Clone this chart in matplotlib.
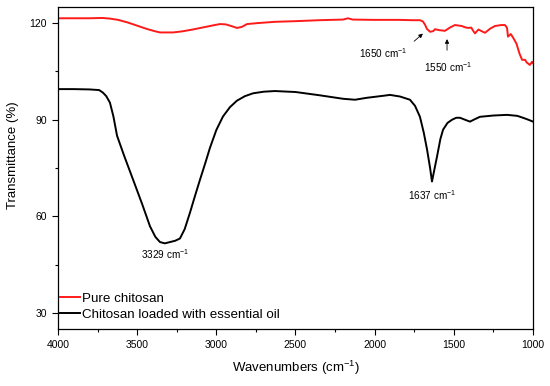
import matplotlib
matplotlib.use("Agg")
import matplotlib.pyplot as plt
from matplotlib.ticker import MultipleLocator

plt.rcParams['font.family'] = ['Liberation Sans', 'DejaVu Sans']
plt.rcParams['mathtext.fontset'] = 'custom'
plt.rcParams['mathtext.rm'] = 'Liberation Sans'
plt.rcParams['mathtext.it'] = 'Liberation Sans:italic'
plt.rcParams['mathtext.bf'] = 'Liberation Sans:bold'

# Pure chitosan (red)
wn_pure = [4000, 3900, 3800, 3720, 3672, 3620, 3560, 3500, 3440, 3390, 3356, 3310, 3274, 3220,
           3150, 3080, 3020, 2977, 2940, 2900, 2870, 2840, 2806, 2740, 2630, 2500, 2350,
           2200, 2168, 2140, 2000, 1850, 1760, 1714, 1695, 1682, 1670, 1650, 1630, 1619, 1590, 1556,
           1525, 1493, 1450, 1430, 1410, 1390, 1375, 1366, 1345, 1325, 1303, 1270, 1240, 1200, 1177,
           1164, 1158, 1140, 1126, 1105, 1085, 1069, 1050, 1040, 1020, 1006, 1000]
t_pure = [121.5, 121.5, 121.5, 121.6, 121.4, 121.0, 120.2, 119.2, 118.2, 117.5, 117.1, 117.1, 117.1, 117.4,
          118.0, 118.7, 119.3, 119.7, 119.6, 119.0, 118.5, 118.8, 119.7, 120.0, 120.4, 120.6, 120.9,
          121.1, 121.5, 121.1, 121.0, 121.0, 120.9, 120.9, 120.5, 119.5, 118.2, 117.3, 117.5, 118.1, 117.8, 117.6,
          118.6, 119.4, 119.1, 118.7, 118.5, 118.6, 117.4, 116.8, 118.0, 117.5, 117.0, 118.3, 119.1, 119.4, 119.4,
          118.5, 115.8, 116.6, 115.5, 113.7, 110.5, 108.6, 108.6, 107.8, 107.0, 108.0, 107.6]

# Chitosan loaded with essential oil (black)
wn_oil = [4000, 3900, 3800, 3740, 3716, 3695, 3672, 3650, 3627, 3580, 3526, 3470, 3419, 3385,
          3356, 3325, 3293, 3260, 3230, 3200, 3166, 3135, 3103, 3070, 3040, 3000, 2958, 2914,
          2870, 2820, 2768, 2700, 2630, 2500, 2350, 2200, 2124, 2050, 1950, 1903, 1840,
          1777, 1745, 1714, 1690, 1669, 1650, 1638, 1625, 1606, 1585, 1568, 1540,
          1511, 1485, 1461, 1430, 1398, 1370, 1335, 1250, 1164, 1100,
          1063, 1030, 1000]
t_oil = [99.5, 99.5, 99.4, 99.2, 98.4, 97.3, 95.3, 91.0, 85.0, 78.5, 71.4, 64.0, 56.9, 53.6,
         52.0, 51.6, 52.0, 52.4, 53.1, 56.0, 61.2, 66.3, 71.4, 76.5, 81.3, 86.8, 91.0, 93.9,
         95.9, 97.3, 98.2, 98.7, 98.9, 98.6, 97.6, 96.5, 96.2, 96.8, 97.4, 97.7, 97.2,
         96.2, 94.3, 90.9, 86.0, 80.7, 75.0, 70.8, 74.0, 78.6, 84.0, 86.9, 89.0,
         90.0, 90.6, 90.6, 90.0, 89.4, 90.1, 90.9, 91.3, 91.5, 91.2,
         90.6, 90.0, 89.4]

x_ticks = [4000, 3500, 3000, 2500, 2000, 1500, 1000]
y_ticks = [30, 60, 90, 120]

fig = plt.figure(figsize=(5.5, 3.86), dpi=100)
ax = fig.add_axes([58/550, 1-329/386, (533-58)/550, (329-7)/386])

ax.plot(wn_pure, t_pure, color='#ff1a1a', lw=1.4, label='Pure chitosan')
ax.plot(wn_oil, t_oil, color='black', lw=1.4, label='Chitosan loaded with essential oil')

ax.set_xlim(4000, 1000)
ax.set_ylim(25, 125)
ax.set_xticks(x_ticks)
ax.set_yticks(y_ticks)
ax.xaxis.set_minor_locator(MultipleLocator(250))
ax.yaxis.set_minor_locator(MultipleLocator(15))
ax.tick_params(which='both', direction='out', labelsize=7.5, top=False, right=False)
ax.tick_params(which='major', length=4, width=0.8, pad=4)
ax.tick_params(which='minor', length=2.5, width=0.8)
for s in ax.spines.values():
    s.set_linewidth(0.9)

ax.set_xlabel('Wavenumbers (cm$^{-1}$)', fontsize=9.5, labelpad=6)
ax.set_ylabel('Transmittance (%)', fontsize=9.5)
ax.yaxis.set_label_coords(-0.082, 0.54)

leg = ax.legend(loc='lower left', bbox_to_anchor=(0.005, 0.025), borderaxespad=0, frameon=False,
                fontsize=9.6, handlelength=1.5, handletextpad=0.1, labelspacing=0.28,
                borderpad=0)

ax.text(3324, 48.2, '3329 cm$^{-1}$', fontsize=7.2, ha='center', va='center')
ax.text(1638, 66.5, '1637 cm$^{-1}$', fontsize=7.2, ha='center', va='center')
ax.text(1947, 110.8, '1650 cm$^{-1}$', fontsize=7.2, ha='center', va='center')
ax.text(1536, 106.3, '1550 cm$^{-1}$', fontsize=7.2, ha='center', va='center')
ax.annotate('', xy=(1682, 117.3), xytext=(1764, 113.8),
            arrowprops=dict(arrowstyle='-|>', color='black', lw=0.6, mutation_scale=6))
ax.annotate('', xy=(1543, 115.9), xytext=(1543, 110.7),
            arrowprops=dict(arrowstyle='-|>', color='black', lw=0.6, mutation_scale=6))

fig.savefig('out.png', dpi=100)
